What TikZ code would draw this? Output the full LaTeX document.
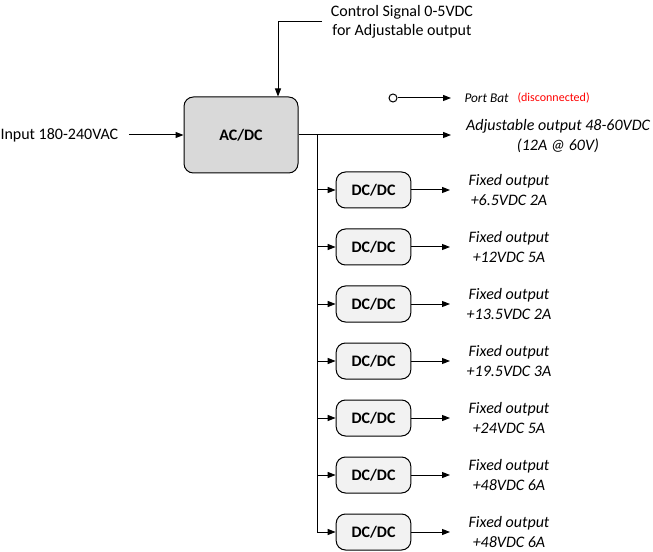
\documentclass[tikz,border=0pt]{standalone}
\usepackage{fontspec}
\setmainfont{Carlito}
\usepackage{tikz}
\usetikzlibrary{arrows.meta}
\definecolor{acgray}{HTML}{D9D9D9}
\definecolor{dcgray}{HTML}{F2F2F2}
\definecolor{discred}{HTML}{FF0000}

\begin{document}
\begin{tikzpicture}[x=0.75pt, y=-0.75pt, line width=0.75pt,
  font=\fontsize{12}{14.5}\selectfont,
  arr/.style={-{Triangle[length=6pt,width=4.5pt]}},
  acbox/.style={draw, rounded corners=7pt, fill=acgray, minimum width=85.5pt, minimum height=57pt, font=\fontsize{12}{14.5}\selectfont\bfseries},
  dcbox/.style={draw, rounded corners=7pt, fill=dcgray, minimum width=56pt, minimum height=27pt, font=\fontsize{12}{14.5}\selectfont\bfseries},
  outtext/.style={align=center, font=\fontsize{12}{14.5}\selectfont\itshape},
  smalltext/.style={anchor=west, inner sep=0pt, font=\fontsize{9}{11}\selectfont}]
 \useasboundingbox (0,0) rectangle (653,552);

 % main converter
 \node[acbox] (acdc) at (241,135) {AC/DC};
 \node[anchor=west, inner sep=0pt] (input) at (0,135) {Input 180-240VAC};
 \draw[arr] ([xshift=7.5pt]input.east) -- (acdc.west);

 % control signal
 \node[align=center] (ctrl) at (402,21.5) {Control Signal 0-5VDC\\for Adjustable output};
 \coordinate (ctlin) at ([xshift=27.75pt]acdc.north);
 \draw[arr] ([xshift=-3pt]ctrl.west) -| (ctlin);

 % battery port
 \node[draw, circle, fill=white, inner sep=0pt, minimum size=6pt] (bat) at (393,98) {};
 \node[smalltext, font=\fontsize{10}{12}\selectfont\itshape] (battxt) at (464,98) {Port Bat};
 \node[smalltext, text=discred] (disc) at (517,98) {(disconnected)};
 \coordinate (battip) at (451,98);
 \draw[arr] (bat.east) -- (battip);

 % adjustable output
 \node[outtext] (adjout) at (558,136) {Adjustable output 48-60VDC\\(12A @ 60V)};
 \coordinate (adjtip) at (451,135);
 \draw[arr] (acdc.east) -- (adjtip);

 % fixed outputs
 \coordinate (bus) at (317,135);
 \coordinate (fixtip) at (450,0);
 \foreach \i/\v in {0/+6.5VDC 2A, 1/+12VDC 5A, 2/+13.5VDC 2A, 3/+19.5VDC 3A, 4/+24VDC 5A, 5/+48VDC 6A, 6/+48VDC 6A}{
   \node[dcbox] (dc\i) at (373.5,{190+57*\i}) {DC/DC};
   \node[outtext] (fix\i) at (509,{190+57*\i}) {Fixed output\\\v};
   \draw[arr] (dc\i.west -| bus) -- (dc\i.west);
   \draw[arr] (dc\i.east) -- (dc\i.east -| fixtip);
 }
 \draw (bus) -- (dc6.west -| bus);
\end{tikzpicture}
\end{document}
